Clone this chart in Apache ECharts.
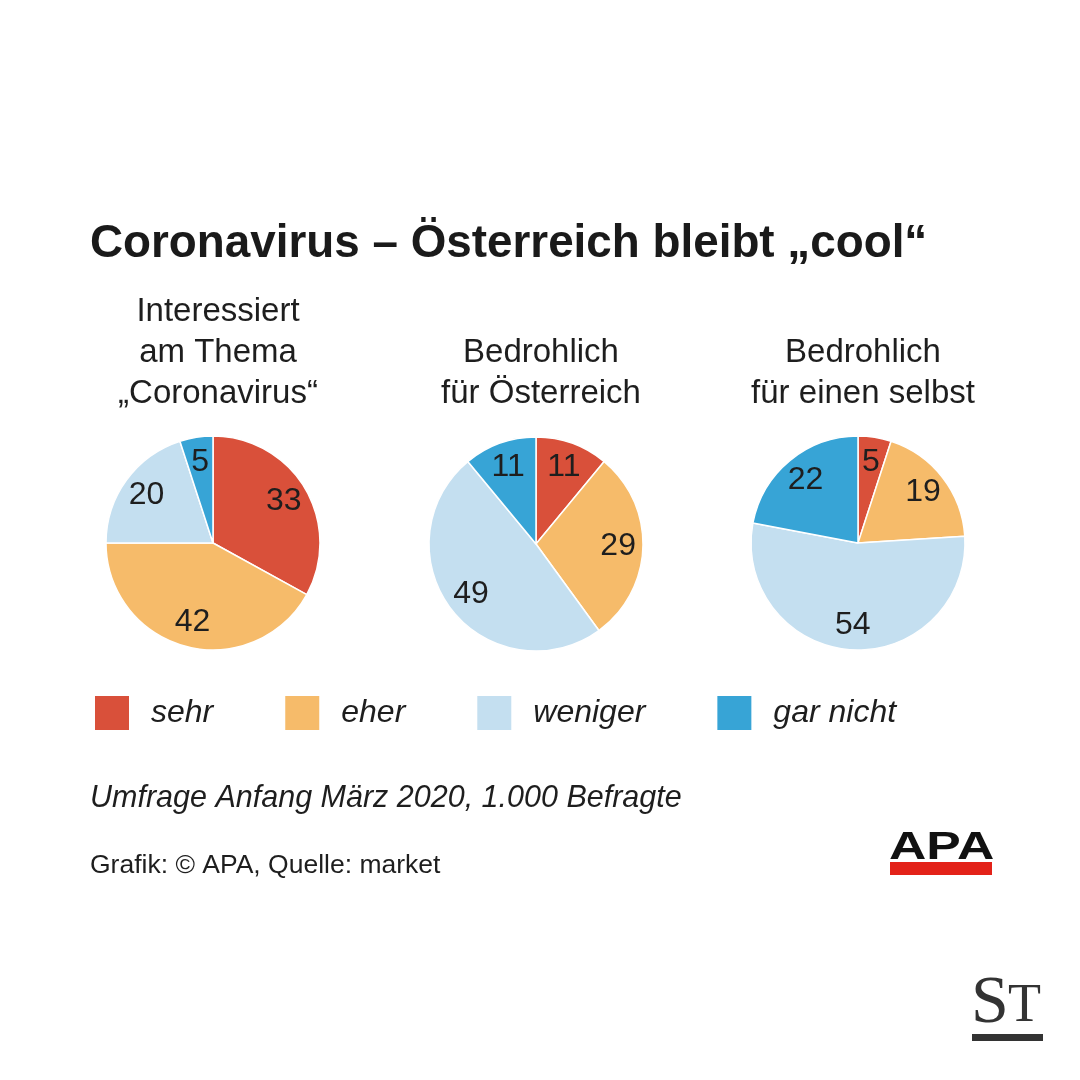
<!DOCTYPE html>
<html>
<head>
<meta charset="utf-8">
<script src="https://cdn.jsdelivr.net/npm/echarts@6/dist/echarts.min.js"></script>
<style>
html,body{margin:0;padding:0;background:#fff;}
#chart{width:1080px;height:1080px;}
</style>
</head>
<body>
<div id="chart"></div>
<script>
const categories = ['sehr', 'eher', 'weniger', 'gar nicht'];
const colors = ['#d9503a', '#f6bb6a', '#c4dff0', '#37a4d6'];
const pieTitles = [
  'Interessiert\nam Thema\n„Coronavirus“',
  'Bedrohlich\nfür Österreich',
  'Bedrohlich\nfür einen selbst'
];
const interessiert = [33, 42, 20, 5];
const bedrohlichOesterreich = [11, 29, 49, 11];
const bedrohlichSelbst = [5, 19, 54, 22];
const pieValues = [interessiert, bedrohlichOesterreich, bedrohlichSelbst];

const FONT = "'Liberation Sans', Arial, Helvetica, sans-serif";
const SERIF = "'Liberation Serif', 'DejaVu Serif', serif";
const centers = [[213, 543], [536, 544], [858, 543]];
const R = 107;

const chart = echarts.init(document.getElementById('chart'), null, {renderer: 'canvas'});

const series = [];
pieValues.forEach((vals, i) => {
  const data = categories.map((c, k) => ({name: c, value: vals[k], itemStyle: {color: colors[k]}}));
  series.push({
    type: 'pie',
    center: centers[i],
    radius: [0, R],
    startAngle: 90,
    clockwise: true,
    silent: true,
    animation: false,
    label: {show: false},
    labelLine: {show: false},
    emphasis: {disabled: true},
    itemStyle: {borderColor: '#ffffff', borderWidth: 1.5},
    data: data
  });
});
// transparent overlay pies carry the value labels at ~74% of the radius
pieValues.forEach((vals, i) => {
  const data = categories.map((c, k) => ({name: c, value: vals[k]}));
  series.push({
    type: 'pie',
    center: centers[i],
    radius: [0, R * 1.48],
    startAngle: 90,
    clockwise: true,
    silent: true,
    animation: false,
    z: 5,
    legendHoverLink: false,
    itemStyle: {color: 'rgba(0,0,0,0)', borderWidth: 0},
    emphasis: {disabled: true},
    label: {
      show: true,
      position: 'inside',
      formatter: '{c}',
      color: '#1e1e1e',
      fontFamily: FONT,
      fontSize: 32
    },
    labelLine: {show: false},
    data: data
  });
});

const option = {
  backgroundColor: '#ffffff',
  animation: false,
  title: [
    {
      text: 'Coronavirus – Österreich bleibt „cool“',
      left: 85, top: 216,
      textStyle: {fontFamily: FONT, fontWeight: 'bold', fontSize: 45.8, color: '#1a1a1a'}
    }
  ].concat(pieTitles.map((t, i) => {
    const lines = t.split('\n').length;
    return {
      text: t,
      left: centers[i][0],
      textAlign: 'center',
      top: 403 - lines * 41 + 6,
      textStyle: {fontFamily: FONT, fontWeight: 'normal', fontSize: 33, lineHeight: 41, color: '#1e1e1e'}
    };
  })),
  legend: {
    left: 93,
    top: 694,
    padding: 0,
    icon: 'rect',
    itemWidth: 36,
    itemHeight: 36,
    itemGap: 70,
    selectedMode: false,
    data: categories.map((c, k) => ({name: c, itemStyle: {color: colors[k]}})),
    textStyle: {fontFamily: FONT, fontStyle: 'italic', fontSize: 32, color: '#1e1e1e', padding: [0, 0, 0, 16]}
  },
  graphic: [
    {type: 'text', left: 90, top: 784, style: {text: 'Umfrage Anfang März 2020, 1.000 Befragte', font: "italic 30.5px " + FONT, fill: '#1e1e1e'}},
    {type: 'text', left: 90, top: 852, style: {text: 'Grafik: © APA, Quelle: market', font: "26.5px " + FONT, fill: '#1e1e1e'}},
    {type: 'text', x: 889, y: 830, scaleX: 1.36, style: {text: 'APA', font: "bold 38px " + FONT, fill: '#111111'}},
    {type: 'rect', shape: {x: 890, y: 862, width: 102, height: 13}, style: {fill: '#e32219'}},
    {type: 'text', x: 971, y: 970, style: {text: 'S', font: "68px " + SERIF, fill: '#333333'}},
    {type: 'text', x: 1008, y: 980, style: {text: 'T', font: "54px " + SERIF, fill: '#333333'}},
    {type: 'rect', shape: {x: 972, y: 1034, width: 71, height: 7}, style: {fill: '#333333'}}
  ],
  series: series
};
chart.setOption(option);
</script>
</body>
</html>
